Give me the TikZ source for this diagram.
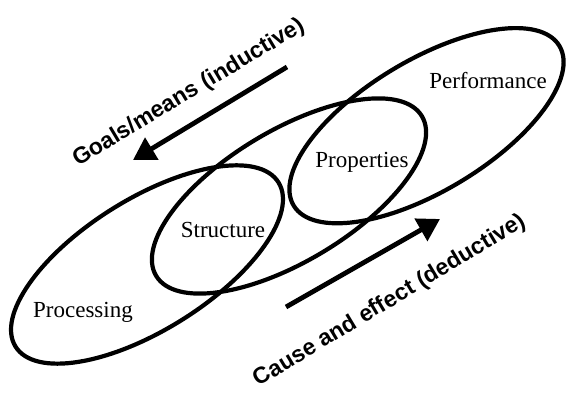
\documentclass[tikz,border=0pt]{standalone}
\usepackage{fontspec}
\setmainfont{Liberation Serif}
\setsansfont{Liberation Sans}
\usepackage{tikz}
\usetikzlibrary{shapes.geometric,arrows.meta}
\tikzstyle{zone}   = [ellipse, draw, line width=4.2pt, inner sep=0pt,
                      minimum width=310pt, minimum height=131pt]
\tikzstyle{Bname}  = [anchor=base, inner sep=0pt,
                      font=\fontsize{23}{27}\selectfont]
\tikzstyle{Bflow}  = [rotate=31, inner sep=0pt,
                      font=\sffamily\bfseries\fontsize{23}{27}\selectfont]
\tikzstyle{Bpush}  = [line width=4.8pt, -{Triangle[length=22pt,width=25pt]}]

\begin{document}
\begin{tikzpicture}[x=1pt, y=1pt]
  \useasboundingbox (0,0) rectangle (566,398);
  % three overlapping domains
  \node[zone, rotate=32] (proc) at (147,133.5)   {};
  \node[zone, rotate=31] (mid)  at (289,202)     {};
  \node[zone, rotate=31] (perf) at (426.5,272.3) {};
  % names
  \node[Bname] (tproc) at (83,80.5)   {Processing};
  \node[Bname] (tstru) at (223,160)   {Structure};
  \node[Bname] (tprop) at (362,230.5) {Properties};
  \node[Bname] (tperf) at (488,309.7) {Performance};
  % the two ways of reasoning
  \coordinate (gsrc) at (287,331);
  \coordinate (gdst) at (133,238);
  \coordinate (csrc) at (286,91);
  \coordinate (cdst) at (440,179);
  \draw[Bpush] (gsrc) -- (gdst);
  \draw[Bpush] (csrc) -- (cdst);
  \node[Bflow] (tgoal)  at (189,305) {Goals/means (inductive)};
  \node[Bflow] (tcause) at (390,97)  {Cause and effect (deductive)};
\end{tikzpicture}
\end{document}
